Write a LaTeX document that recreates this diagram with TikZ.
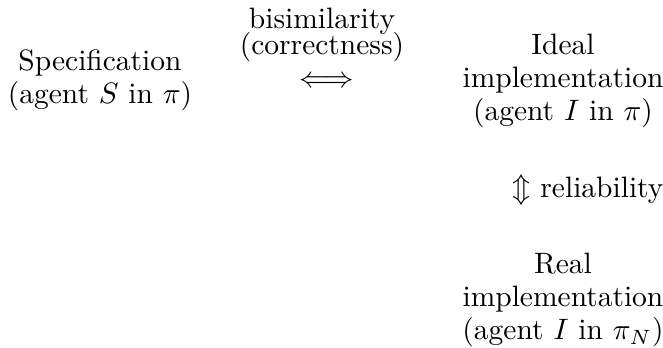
\documentclass[tikz,border=0pt]{standalone}
\begin{document}
\begin{tikzpicture}[x=0.339pt,y=-0.339pt,
  lbl/.style={inner sep=0pt,outer sep=0pt,align=center,font=\fontsize{10}{11.2}\selectfont}]
\useasboundingbox (0,0) rectangle (663,348);
\node[lbl] (spec) at (100,80.5) {Specification\\(agent $S$ in $\pi$)};
\node[lbl] (ideal) at (563,81) {Ideal\\implementation\\(agent $I$ in $\pi$)};
\node[lbl] (real) at (563,300) {Real\\implementation\\(agent $I$ in $\pi_N$)};
\node[lbl] (bisim) at (322,35) {bisimilarity\\[-2.4pt](correctness)};
\node[lbl] (eq) at (327,82) {$\Longleftrightarrow$};
\node[lbl] (rel) at (588,190) {$\Updownarrow$ reliability};
\end{tikzpicture}
\end{document}
